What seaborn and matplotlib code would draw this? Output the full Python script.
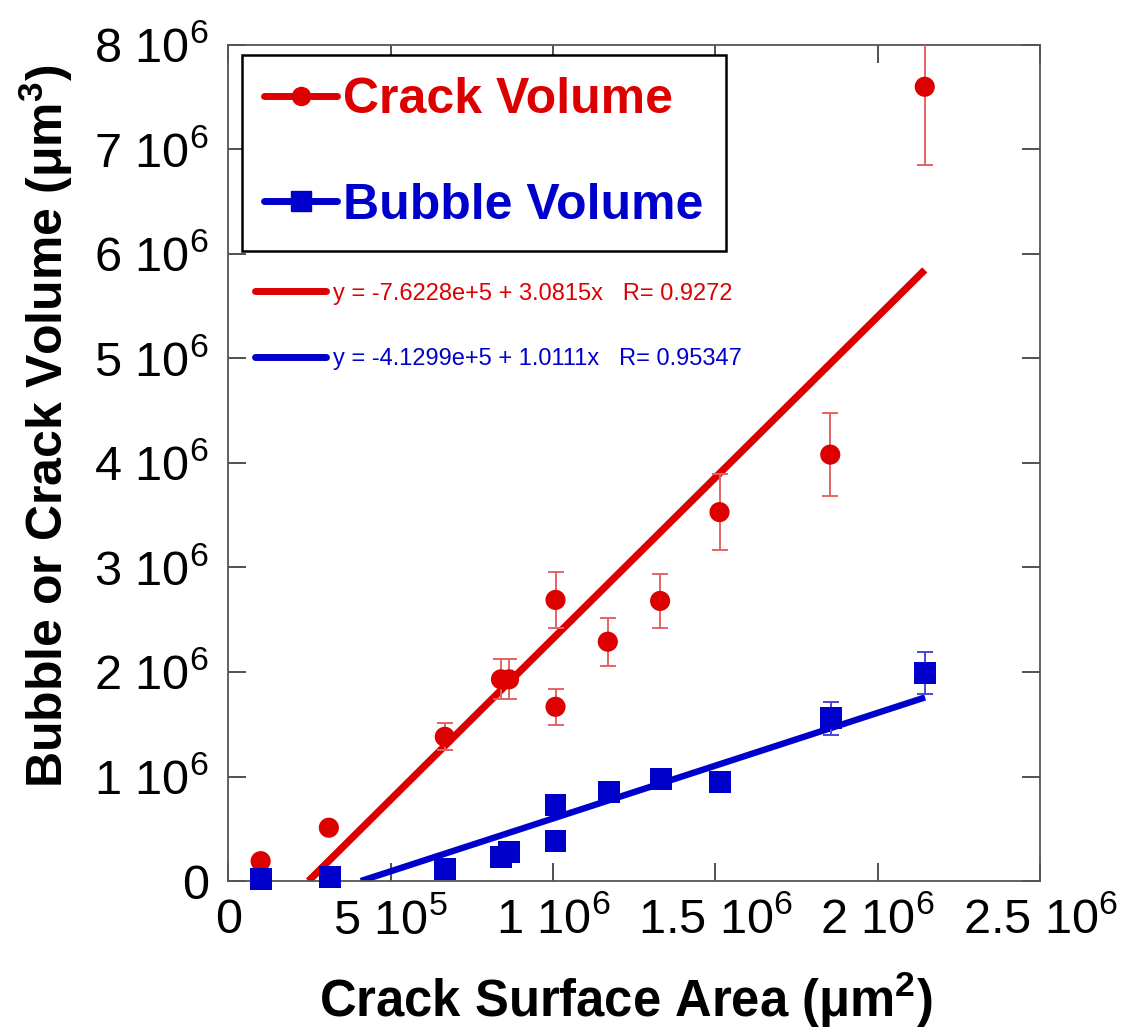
import numpy as np
import pandas as pd
import matplotlib
matplotlib.use("Agg")
import matplotlib.pyplot as plt
import seaborn as sns
from matplotlib.lines import Line2D
from matplotlib.ticker import FixedLocator, FuncFormatter

# Crack surface area (um^2) for each sample
area_crack = [0.10e6, 0.31e6, 0.667e6, 0.84e6, 0.865e6, 1.008e6, 1.008e6,
              1.169e6, 1.33e6, 1.513e6, 1.854e6, 2.145e6]
crack_volume = [0.19e6, 0.51e6, 1.38e6, 1.93e6, 1.93e6, 2.69e6, 1.667e6,
                2.29e6, 2.68e6, 3.53e6, 4.08e6, 7.60e6]
crack_err = [0, 0, 0.13e6, 0.19e6, 0.19e6, 0.27e6, 0.17e6,
             0.23e6, 0.26e6, 0.36e6, 0.40e6, 0.75e6]

area_bubble = [0.10e6, 0.314e6, 0.667e6, 0.84e6, 0.865e6, 1.008e6, 1.008e6,
               1.172e6, 1.332e6, 1.515e6, 1.855e6, 2.146e6]
bubble_volume = [0.02e6, 0.04e6, 0.115e6, 0.23e6, 0.28e6, 0.727e6, 0.386e6,
                 0.855e6, 0.976e6, 0.944e6, 1.556e6, 1.987e6]
bubble_err = [0, 0, 0, 0, 0, 0, 0, 0, 0, 0, 0.16e6, 0.20e6]

# Linear fits: y = a + b x
crack_fit = (-7.6228e5, 3.0815, 0.9272)
bubble_fit = (-4.1299e5, 1.0111, 0.95347)

x_ticks = [0, 0.5e6, 1.0e6, 1.5e6, 2.0e6, 2.5e6]
y_ticks = [0, 1e6, 2e6, 3e6, 4e6, 5e6, 6e6, 7e6, 8e6]

RED = "#dd0000"
BLUE = "#0000cc"

sns.set_theme(style="ticks")
plt.rcParams["font.family"] = ["Liberation Sans", "DejaVu Sans"]
plt.rcParams["mathtext.fontset"] = "custom"
plt.rcParams["mathtext.rm"] = "Liberation Sans"
plt.rcParams["mathtext.bf"] = "Liberation Sans:bold"
plt.rcParams["text.color"] = "black"
plt.rcParams["axes.labelcolor"] = "black"
plt.rcParams["xtick.labelcolor"] = "black"
plt.rcParams["ytick.labelcolor"] = "black"

fig = plt.figure(figsize=(11.24, 10.36), dpi=100)
ax = fig.add_axes([0.203, 0.1496, 0.7223, 0.807])


def fit_frame(fit, xmax):
    a, b, _ = fit
    x0 = -a / b
    xs = np.array([x0, xmax])
    return pd.DataFrame({"x": xs, "y": a + b * xs})


red_line = fit_frame(crack_fit, max(area_crack))
blue_line = fit_frame(bubble_fit, max(area_bubble))
sns.lineplot(data=red_line, x="x", y="y", color=RED, lw=5.2, ax=ax,
             solid_capstyle="butt", zorder=2)
sns.lineplot(data=blue_line, x="x", y="y", color=BLUE, lw=4.6, ax=ax,
             solid_capstyle="butt", zorder=2)

# error bars (only where an uncertainty exists)
ce = np.array(crack_err)
m = ce > 0
ax.errorbar(np.array(area_crack)[m], np.array(crack_volume)[m], yerr=ce[m],
            fmt="none", ecolor="#e46464", elinewidth=1.4, capsize=6,
            capthick=1.4, zorder=3)
be = np.array(bubble_err)
m = be > 0
ax.errorbar(np.array(area_bubble)[m], np.array(bubble_volume)[m], yerr=be[m],
            fmt="none", ecolor="#4848d8", elinewidth=1.4, capsize=6,
            capthick=1.4, zorder=3)

sns.scatterplot(x=area_crack, y=crack_volume, marker="o", s=210, color=RED,
                edgecolor="none", linewidth=0, ax=ax, zorder=4, clip_on=False)
sns.scatterplot(x=area_bubble, y=bubble_volume, marker="s", s=250, color=BLUE,
                edgecolor="none", linewidth=0, ax=ax, zorder=4, clip_on=False)

ax.set_xlim(0, 2.5e6)
ax.set_ylim(0, 8e6)


def sci_fmt(v, pos):
    if v == 0:
        return "0"
    e = int(np.floor(np.log10(abs(v)) + 1e-9))
    return "%g 10$^{%d}$" % (v / 10 ** e, e)


ax.xaxis.set_major_locator(FixedLocator(x_ticks))
ax.yaxis.set_major_locator(FixedLocator(y_ticks))
ax.xaxis.set_major_formatter(FuncFormatter(sci_fmt))
ax.yaxis.set_major_formatter(FuncFormatter(sci_fmt))
ax.tick_params(axis="both", which="major", direction="in", length=13,
               width=1.2, color="#333333", labelsize=35, labelcolor="black",
               top=True, right=True)
ax.tick_params(axis="x", pad=12)
ax.tick_params(axis="y", pad=14)
for sp in ax.spines.values():
    sp.set_visible(True)
    sp.set_color("#555555")
    sp.set_linewidth(1.3)

ax.set_xlabel("Crack Surface Area (μm$^{\\mathbf{2}}$)", fontsize=36.5,
              fontweight="bold", labelpad=18)
ax.set_ylabel("Bubble or Crack Volume (μm$^{\\mathbf{3}}$)", fontsize=36,
              fontweight="bold", labelpad=14)
ax.xaxis.label.set_x(0.49)
ax.yaxis.label.set_y(0.544)

# series legend
series_handles = [
    Line2D([], [], color=RED, lw=5, marker="o", markersize=13),
    Line2D([], [], color=BLUE, lw=5, marker="s", markersize=14),
]
leg1 = ax.legend(series_handles, ["Crack Volume", "Bubble Volume"],
                 loc="upper left", bbox_to_anchor=(0.017, 0.988),
                 borderaxespad=0, fancybox=False, frameon=True,
                 edgecolor="black", framealpha=1,
                 prop={"weight": "bold", "size": 36},
                 labelcolor=[RED, BLUE], handlelength=1.45,
                 handletextpad=0.12, labelspacing=1.19, borderpad=0.45)
leg1.get_frame().set_linewidth(1.8)
ax.add_artist(leg1)

# fit legend
fit_handles = [Line2D([], [], color=RED, lw=5), Line2D([], [], color=BLUE, lw=5)]
fit_labels = [
    "y = %.4fe+5 + %.4fx   R= %.4f" % (crack_fit[0] / 1e5, crack_fit[1], crack_fit[2]),
    "y = %.4fe+5 + %.4fx   R= %.5f" % (bubble_fit[0] / 1e5, bubble_fit[1], bubble_fit[2]),
]
leg2 = ax.legend(fit_handles, fit_labels, loc="upper left",
                 bbox_to_anchor=(0.022, 0.727), borderaxespad=0,
                 frameon=False, prop={"size": 17}, labelcolor=[RED, BLUE],
                 handlelength=3.0, handletextpad=0.3, labelspacing=1.85)

fig.savefig("out.png", dpi=100)
